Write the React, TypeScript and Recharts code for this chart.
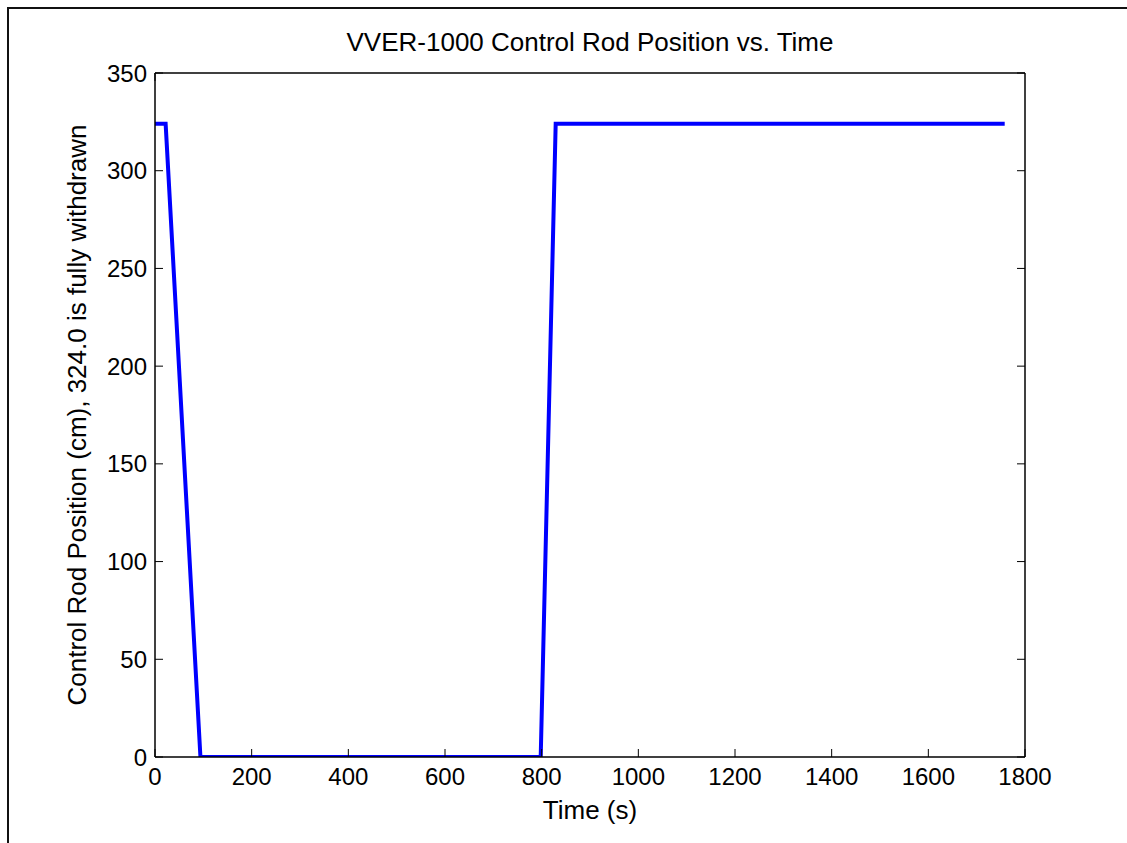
import React from 'react';
import { LineChart, Line, XAxis, YAxis } from 'recharts';

// ---- data ----
const timeS = [0, 22, 94, 798, 829, 1758];
const rodPositionCm = [324, 324, 0, 0, 324, 324];
const xTicks = [0, 200, 400, 600, 800, 1000, 1200, 1400, 1600, 1800];
const yTicks = [0, 50, 100, 150, 200, 250, 300, 350];
const titleText = 'VVER-1000 Control Rod Position vs. Time';
const xLabelText = 'Time (s)';
const yLabelText = 'Control Rod Position (cm), 324.0 is fully withdrawn';

const data = timeS.map((t, i) => ({ t, pos: rodPositionCm[i] }));

// ---- layout (page coordinates; body margin removed) ----
const W = 1127;
const H = 843;
const M = { top: 72, right: 101, bottom: 85, left: 154 };
const plotLeft = M.left + 1;
const plotRight = W - M.right - 1;
const plotTop = M.top + 1;
const plotBottom = H - M.bottom - 1;
const plotCx = (plotLeft + plotRight) / 2;
const plotCy = (plotTop + plotBottom) / 2;
const FONT = '"Liberation Sans", Arial, Helvetica, sans-serif';

const tickStyle = { fill: '#000', fontSize: 24, fontFamily: FONT };
const axisLineStyle = { stroke: '#000', strokeWidth: 1.5 };
const tickLineStyle = { stroke: '#000', strokeWidth: 1 };

const TitleLabel = () => (
  <text x={plotCx} y={51} textAnchor="middle" fontSize={26} fontFamily={FONT} fill="#000">
    {titleText}
  </text>
);

const XLabel = () => (
  <text x={plotCx} y={819} textAnchor="middle" fontSize={26} fontFamily={FONT} fill="#000">
    {xLabelText}
  </text>
);

const YLabel = () => (
  <text
    x={86}
    y={plotCy}
    textAnchor="middle"
    fontSize={26}
    fontFamily={FONT}
    fill="#000"
    transform={`rotate(-90, 86, ${plotCy})`}
  >
    {yLabelText}
  </text>
);

const empty = () => '';

export default function App() {
  return (
    <div style={{ position: 'relative', width: W, height: H, overflow: 'hidden', background: '#fff' }}>
      <style>{'html,body{margin:0;padding:0;overflow:hidden;}'}</style>
      <div
        style={{
          position: 'absolute',
          left: 7,
          top: 7,
          width: 1120,
          height: 836,
          boxSizing: 'border-box',
          borderTop: '2px solid #111',
          borderLeft: '2px solid #111',
        }}
      />
      <div style={{ position: 'absolute', left: 0, top: 0 }}>
        <LineChart width={W} height={H} data={data} margin={M}>
          <XAxis
            dataKey="t"
            type="number"
            domain={[0, 1800]}
            ticks={xTicks}
            height={1}
            tickSize={-8}
            tickMargin={19}
            tick={tickStyle}
            axisLine={axisLineStyle}
            tickLine={tickLineStyle}
            interval={0}
            allowDataOverflow
            label={{ content: XLabel }}
          />
          <XAxis
            xAxisId="top"
            orientation="top"
            type="number"
            domain={[0, 1800]}
            ticks={xTicks}
            height={1}
            tickSize={-8}
            tickFormatter={empty}
            axisLine={axisLineStyle}
            tickLine={tickLineStyle}
            interval={0}
            allowDataOverflow
            label={{ content: TitleLabel }}
          />
          <YAxis
            type="number"
            domain={[0, 350]}
            ticks={yTicks}
            width={1}
            tickSize={-8}
            tickMargin={16}
            tick={tickStyle}
            axisLine={axisLineStyle}
            tickLine={tickLineStyle}
            interval={0}
            allowDataOverflow
            label={{ content: YLabel }}
          />
          <YAxis
            yAxisId="right"
            orientation="right"
            type="number"
            domain={[0, 350]}
            ticks={yTicks}
            width={1}
            tickSize={-8}
            tickFormatter={empty}
            axisLine={axisLineStyle}
            tickLine={tickLineStyle}
            interval={0}
            allowDataOverflow
          />
          <Line
            type="linear"
            dataKey="pos"
            stroke="#0000ff"
            strokeWidth={4}
            dot={false}
            activeDot={false}
            isAnimationActive={false}
          />
        </LineChart>
      </div>
    </div>
  );
}
